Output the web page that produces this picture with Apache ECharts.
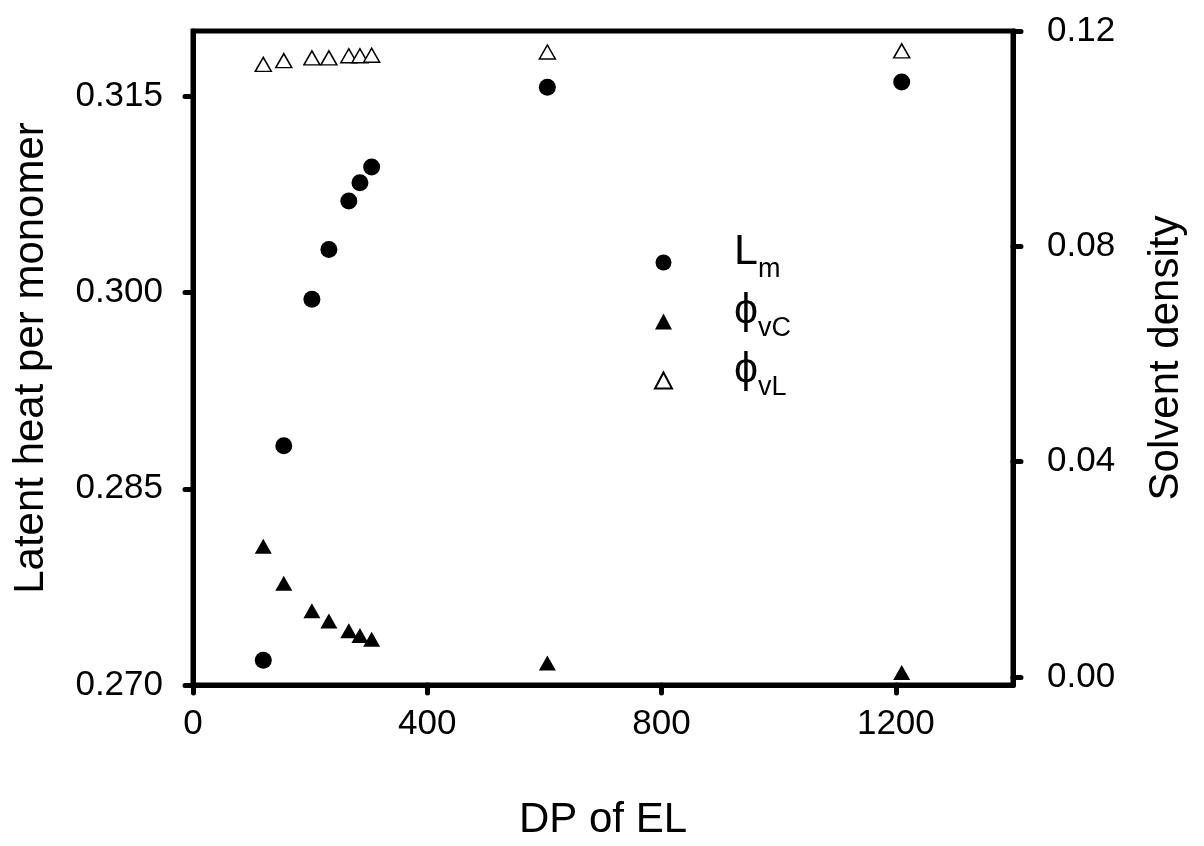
<!DOCTYPE html>
<html>
<head>
<meta charset="utf-8">
<script src="https://cdn.jsdelivr.net/npm/echarts@6/dist/echarts.min.js"></script>
<style>
html, body { margin: 0; padding: 0; background: #fff; }
#chart { width: 1204px; height: 846px; }
</style>
</head>
<body>
<div id="chart"></div>
<script>
// DP of EL (x)
var dp = [120, 155, 203, 232, 266, 285, 305, 605, 1210]
// latent heat per monomer, left axis
var latentHeat = [0.2719, 0.2883, 0.2995, 0.3033, 0.3070, 0.3084, 0.3096, 0.3157, 0.3161]
// solvent density, right axis
var phiVC = [0.0243, 0.0174, 0.0123, 0.0104, 0.0086, 0.0077, 0.0070, 0.0026, 0.0008]
var phiVL = [0.1138, 0.1145, 0.1150, 0.1150, 0.1154, 0.1154, 0.1155, 0.1161, 0.1163]
// tick labels
var xTicks = [0, 400, 800, 1200]
var leftTicks = [0.270, 0.285, 0.300, 0.315]
var rightTicks = [0, 0.04, 0.08, 0.12]

var font = "'Liberation Sans', Arial, sans-serif"

function pairs(ys) {
  return dp.map(function (x, i) { return [x, ys[i]] })
}

var legendText = {
  Lm: '{m|L}{s|m}',
  phiVC: '{m|\u03d5}{s|vC}',
  phiVL: '{m|\u03d5}{s|vL}'
}

var axisLine = { show: true, onZero: false, lineStyle: { color: '#000', width: 5 } }
var axisTick = function (vals) {
  return { show: true, inside: false, length: 8, customValues: vals, lineStyle: { color: '#000', width: 5, cap: 'round' } }
}

var chart = echarts.init(document.getElementById('chart'))
chart.setOption({
  backgroundColor: '#fff',
  animation: false,
  textStyle: { fontFamily: font },
  grid: { left: 193, right: 191, top: 31, bottom: 161, show: true, borderColor: '#000', borderWidth: 5 },
  legend: {
    orient: 'vertical',
    left: 654,
    top: 231,
    padding: 0,
    itemWidth: 17,
    itemHeight: 16,
    itemGap: -4,
    data: [
      { name: 'Lm', icon: 'circle' },
      { name: 'phiVC', icon: 'triangle' },
      { name: 'phiVL', icon: 'triangle' }
    ],
    formatter: function (name) { return legendText[name] },
    textStyle: {
      color: '#000',
      rich: {
        m: { fontSize: 43, lineHeight: 44, fontFamily: font, color: '#000', padding: [0, 0, 20, 57] },
        s: { fontSize: 27, lineHeight: 26, fontFamily: font, color: '#000', padding: [15, 0, 0, 0] }
      }
    }
  },
  xAxis: {
    type: 'value',
    min: 0,
    max: 1400,
    name: 'DP of EL',
    nameLocation: 'middle',
    nameGap: 114,
    nameTextStyle: { fontSize: 42, color: '#000', fontFamily: font },
    axisLine: axisLine,
    axisTick: axisTick(xTicks),
    axisLabel: {
      customValues: xTicks, fontSize: 35, color: '#000', margin: 22, fontFamily: font,
      formatter: function (v) { return String(v) }
    },
    splitLine: { show: false }
  },
  yAxis: [
    {
      type: 'value',
      position: 'left',
      min: 0.27,
      max: 0.32,
      name: 'Latent heat per monomer',
      nameLocation: 'middle',
      nameGap: 141,
      nameTextStyle: { fontSize: 42, color: '#000', fontFamily: font },
      axisLine: axisLine,
      axisTick: axisTick(leftTicks),
      axisLabel: {
        customValues: leftTicks, fontSize: 35, color: '#000', margin: 30, fontFamily: font,
        formatter: function (v) { return v.toFixed(3) }
      },
      splitLine: { show: false }
    },
    {
      type: 'value',
      position: 'right',
      min: -0.0015,
      max: 0.12,
      name: 'Solvent density',
      nameLocation: 'middle',
      nameGap: 132,
      nameTextStyle: { fontSize: 42, color: '#000', fontFamily: font },
      axisLine: axisLine,
      axisTick: axisTick(rightTicks),
      axisLabel: {
        customValues: rightTicks, fontSize: 35, color: '#000', margin: 34, fontFamily: font,
        formatter: function (v) { return v.toFixed(2) }
      },
      splitLine: { show: false }
    }
  ],
  series: [
    {
      name: 'Lm',
      type: 'scatter',
      yAxisIndex: 0,
      symbol: 'circle',
      symbolSize: 17,
      itemStyle: { color: '#000', opacity: 1 },
      data: pairs(latentHeat)
    },
    {
      name: 'phiVC',
      type: 'scatter',
      yAxisIndex: 1,
      symbol: 'triangle',
      symbolSize: [17, 15],
      itemStyle: { color: '#000', opacity: 1 },
      data: pairs(phiVC)
    },
    {
      name: 'phiVL',
      type: 'scatter',
      yAxisIndex: 1,
      symbol: 'triangle',
      symbolSize: [16, 14],
      itemStyle: { color: '#fff', borderColor: '#000', borderWidth: 1.5, opacity: 1 },
      data: pairs(phiVL)
    }
  ]
})
</script>
</body>
</html>
